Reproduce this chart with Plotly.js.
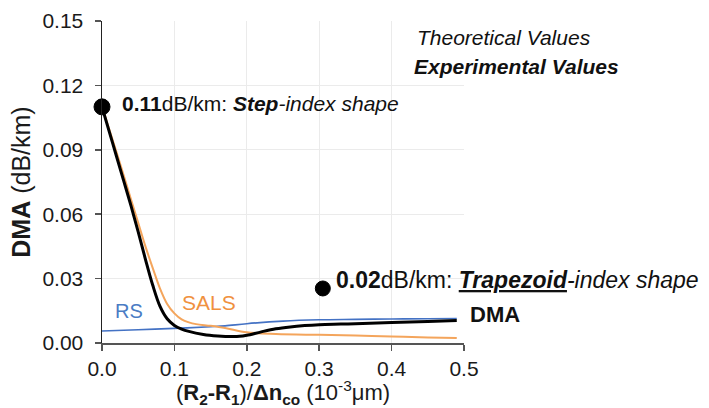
<!DOCTYPE html>
<html>
<head>
<meta charset="utf-8">
<script src="https://cdn.plot.ly/plotly-3.0.1.min.js"></script>
<style>html,body{margin:0;padding:0;background:#fff;}#chart{width:709px;height:408px;}</style>
</head>
<body>
<div id="chart"></div>
<script>
// ---- data ----
const dmaX = [0, 0.01, 0.02, 0.03, 0.04, 0.05, 0.06, 0.07, 0.08, 0.09, 0.10, 0.11, 0.12, 0.14, 0.16, 0.18, 0.19, 0.20, 0.22, 0.24, 0.26, 0.28, 0.30, 0.33, 0.36, 0.40, 0.45, 0.49];
const dmaY = [0.110, 0.0985, 0.087, 0.0755, 0.064, 0.0518, 0.039, 0.027, 0.0172, 0.0113, 0.0082, 0.0065, 0.0054, 0.0040, 0.0033, 0.0030, 0.0031, 0.0036, 0.0052, 0.0066, 0.0075, 0.0081, 0.0085, 0.0088, 0.0091, 0.0095, 0.0100, 0.0105];

const salsX = [0, 0.01, 0.02, 0.03, 0.04, 0.05, 0.06, 0.07, 0.08, 0.09, 0.10, 0.11, 0.12, 0.13, 0.15, 0.17, 0.20, 0.24, 0.30, 0.35, 0.40, 0.45, 0.49];
const salsY = [0.110, 0.0995, 0.089, 0.078, 0.067, 0.056, 0.045, 0.035, 0.0255, 0.0182, 0.0138, 0.0110, 0.0096, 0.0088, 0.0080, 0.0070, 0.0050, 0.0042, 0.0038, 0.0035, 0.0030, 0.0026, 0.0023];

const rsX = [0, 0.05, 0.10, 0.15, 0.17, 0.20, 0.25, 0.30, 0.35, 0.40, 0.45, 0.49];
const rsY = [0.0056, 0.0062, 0.0068, 0.0076, 0.0080, 0.0090, 0.0102, 0.0108, 0.0110, 0.0112, 0.0113, 0.0114];

const expX = [0, 0.305];
const expY = [0.110, 0.0254];
const expSize = [16, 15];

const xTicks = [0, 0.1, 0.2, 0.3, 0.4, 0.5];
const xTickText = ['0.0', '0.1', '0.2', '0.3', '0.4', '0.5'];
const yTicks = [0, 0.03, 0.06, 0.09, 0.12, 0.15];
const yTickText = ['0.00', '0.03', '0.06', '0.09', '0.12', '0.15'];

const FONT = 'Arial, "Liberation Sans", sans-serif';

const traces = [
  {x: rsX, y: rsY, mode: 'lines', line: {color: '#4472C4', width: 1.6, shape: 'spline'}, name: 'RS', hoverinfo: 'skip'},
  {x: salsX, y: salsY, mode: 'lines', line: {color: '#F4A55C', width: 2, shape: 'spline'}, name: 'SALS', hoverinfo: 'skip'},
  {x: dmaX, y: dmaY, mode: 'lines', line: {color: '#000000', width: 3, shape: 'spline'}, name: 'DMA', hoverinfo: 'skip'},
  {x: expX, y: expY, mode: 'markers', marker: {color: '#000000', opacity: 1, size: expSize, line: {color: '#000000', width: 1}}, name: 'Experimental', cliponaxis: false, hoverinfo: 'skip'}
];

const layout = {
  width: 709, height: 408,
  margin: {l: 102, r: 245, t: 21, b: 65},
  paper_bgcolor: '#ffffff', plot_bgcolor: '#ffffff',
  showlegend: false,
  font: {family: FONT, color: '#1a1a1a', size: 20},
  xaxis: {
    range: [0, 0.5], tickvals: xTicks, ticktext: xTickText,
    showgrid: true, gridcolor: '#ebebeb', gridwidth: 1,
    showline: true, linecolor: '#555555', linewidth: 1.5,
    ticks: 'outside', ticklen: 6, tickcolor: '#555555', tickwidth: 1.5,
    zeroline: false, tickfont: {size: 21, family: FONT, color: '#1a1a1a'},
    title: {text: '(<b>R<sub>2</sub>-R<sub>1</sub></b>)/<b>Δn<sub>co</sub></b> (10<sup>-3</sup>μm)', font: {size: 22, family: FONT, color: '#1a1a1a'}, standoff: 14}
  },
  yaxis: {
    range: [0, 0.15], tickvals: yTicks, ticktext: yTickText,
    showgrid: true, gridcolor: '#ebebeb', gridwidth: 1,
    showline: true, linecolor: '#222222', linewidth: 1.5,
    ticks: 'outside', ticklen: 6, tickcolor: '#555555', tickwidth: 1.5,
    ticklabelstandoff: 7,
    zeroline: false, tickfont: {size: 21, family: FONT, color: '#1a1a1a'},
    title: {text: '<b>DMA</b> (dB/km)', font: {size: 25, family: FONT, color: '#1a1a1a'}, standoff: 4}
  },
  annotations: [
    {x: 0.0246, y: 0.1118, xref: 'x', yref: 'y', xanchor: 'left', yanchor: 'middle', showarrow: false,
     text: '<b>0.11</b>dB/km: <b><i>Step</i></b><i>-index shape</i>', font: {size: 21, family: FONT, color: '#111'}},
    {x: 0.321, y: 0.0292, xref: 'x', yref: 'y', xanchor: 'left', yanchor: 'middle', showarrow: false,
     text: '<b>0.02</b>dB/km: <b><i><u>Trapezoid</u></i></b><i>-index shape</i>', font: {size: 23, family: FONT, color: '#111'}},
    {x: 1.01, y: 0.0131, xref: 'paper', yref: 'y', xanchor: 'left', yanchor: 'middle', showarrow: false,
     text: '<b>DMA</b>', font: {size: 22, family: FONT, color: '#111'}},
    {x: 0.0152, y: 0.0149, xref: 'x', yref: 'y', xanchor: 'left', yanchor: 'middle', showarrow: false,
     text: 'RS', font: {size: 20, family: FONT, color: '#4A7CC4'}},
    {x: 0.108, y: 0.019, xref: 'x', yref: 'y', xanchor: 'left', yanchor: 'middle', showarrow: false,
     text: 'SALS', font: {size: 21, family: FONT, color: '#F0913F'}},
    {x: 0.432, y: 0.1425, xref: 'x', yref: 'y', xanchor: 'left', yanchor: 'middle', showarrow: false,
     text: '<i>Theoretical Values</i>', font: {size: 21, family: FONT, color: '#111'}},
    {x: 0.428, y: 0.1286, xref: 'x', yref: 'y', xanchor: 'left', yanchor: 'middle', showarrow: false,
     text: '<b><i>Experimental Values</i></b>', font: {size: 21, family: FONT, color: '#111'}}
  ]
};

Plotly.newPlot('chart', traces, layout, {staticPlot: true, displayModeBar: false});
</script>
</body>
</html>
